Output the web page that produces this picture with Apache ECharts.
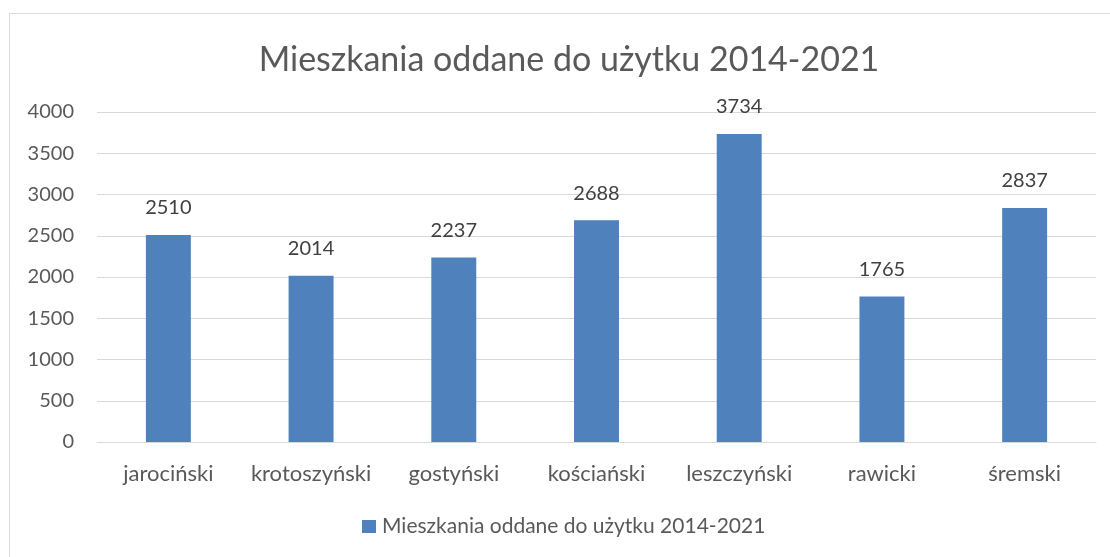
<!DOCTYPE html>
<html>
<head>
<meta charset="utf-8">
<script src="https://cdn.jsdelivr.net/npm/echarts@6/dist/echarts.min.js"></script>
<style>
  html, body { margin: 0; padding: 0; background: #fff; }
  #chart { width: 1110px; height: 557px; }
</style>
</head>
<body>
<div id="chart"></div>
<script>
const chartTitle = 'Mieszkania oddane do użytku 2014-2021'
const categories = ['jarociński', 'krotoszyński', 'gostyński', 'kościański', 'leszczyński', 'rawicki', 'śremski']
const values = [2510, 2014, 2237, 2688, 3734, 1765, 2837]

const FONT = 'Lato, "Open Sans", sans-serif'

const chart = echarts.init(document.getElementById('chart'), null, { renderer: 'canvas' })

chart.setOption({
  animation: false,
  backgroundColor: '#ffffff',
  textStyle: { fontFamily: FONT },
  title: {
    text: chartTitle,
    left: 564,
    top: 38,
    textAlign: 'center',
    textStyle: {
      color: '#595959',
      fontSize: 34,
      fontWeight: 'normal',
      fontFamily: FONT
    }
  },
  graphic: [{
    type: 'rect',
    silent: true,
    shape: { x: 9.5, y: 13.5, width: 1200, height: 700 },
    style: { fill: 'none', stroke: '#d9d9d9', lineWidth: 1 }
  }],
  legend: {
    bottom: 15,
    left: 357,
    itemWidth: 14,
    itemHeight: 13,
    itemGap: 10,
    icon: 'rect',
    textStyle: { color: '#595959', fontSize: 21, fontFamily: FONT, padding: [0, 0, 0, 1] },
    data: [chartTitle]
  },
  grid: {
    left: 97,
    right: 14,
    top: 112,
    bottom: 115,
    containLabel: false
  },
  xAxis: {
    type: 'category',
    data: categories,
    axisLine: { show: true, lineStyle: { color: '#d9d9d9', width: 1 } },
    axisTick: { show: false },
    axisLabel: {
      interval: 0,
      color: '#595959',
      fontSize: 22,
      fontFamily: FONT,
      margin: 21
    }
  },
  yAxis: {
    type: 'value',
    min: 0,
    max: 4000,
    interval: 500,
    axisLine: { show: false },
    axisTick: { show: false },
    splitLine: { lineStyle: { color: '#d9d9d9', width: 1 } },
    axisLabel: {
      color: '#595959',
      fontSize: 20,
      fontFamily: FONT,
      margin: 23,
      formatter: (v) => String(v)
    }
  },
  series: [{
    name: chartTitle,
    type: 'bar',
    data: values,
    barWidth: '31.5%',
    itemStyle: { color: '#4f81bd' },
    label: {
      show: true,
      position: 'top',
      distance: 17,
      color: '#404040',
      fontSize: 20,
      fontFamily: FONT
    }
  }]
})
</script>
</body>
</html>
